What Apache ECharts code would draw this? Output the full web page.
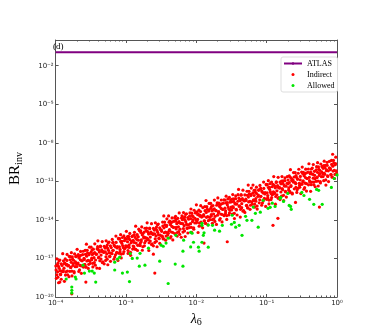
<!DOCTYPE html>
<html>
<head>
<meta charset="utf-8">
<script src="https://cdn.jsdelivr.net/npm/echarts@6/dist/echarts.min.js"></script>
<style>
  html, body { margin: 0; padding: 0; background: #fff; }
  #chart { width: 374px; height: 336px; }
</style>
</head>
<body>
<div id="chart"></div>
<script>
// points, stored as [log10(lambda6), log10(BR_inv)]
const indirectLog = [
  [-3.997,-17.59],[-3.989,-18.55],[-3.982,-17.03],[-3.973,-18.05],[-3.966,-17.36],[-3.958,-18.89],[-3.949,-17.77],[-3.940,-17.12],[-3.931,-18.22],[-3.920,-18.62],[-3.909,-17.55],
  [-3.899,-16.63],[-3.891,-17.95],[-3.880,-17.40],[-3.875,-18.78],[-3.863,-17.04],[-3.855,-18.05],[-3.842,-17.45],[-3.837,-16.69],[-3.828,-18.27],[-3.817,-17.53],[-3.810,-18.42],
  [-3.798,-18.00],[-3.790,-16.86],[-3.784,-17.70],[-3.776,-16.55],[-3.767,-18.36],[-3.759,-17.06],[-3.747,-17.40],[-3.738,-18.02],[-3.730,-16.65],[-3.721,-17.64],[-3.712,-16.84],[-3.704,-17.41],
  [-3.694,-16.29],[-3.686,-17.44],[-3.678,-16.70],[-3.670,-18.01],[-3.661,-16.84],[-3.653,-17.54],[-3.645,-16.45],[-3.634,-18.16],[-3.626,-17.18],[-3.615,-16.70],[-3.605,-17.67],
  [-3.596,-16.99],[-3.588,-17.48],[-3.579,-16.37],[-3.572,-17.67],[-3.562,-15.89],[-3.556,-17.20],[-3.546,-16.58],[-3.536,-17.78],[-3.525,-16.71],[-3.518,-16.12],[-3.507,-17.38],
  [-3.495,-16.12],[-3.487,-16.98],[-3.483,-16.35],[-3.471,-17.66],[-3.464,-16.62],[-3.450,-17.32],[-3.443,-15.86],[-3.432,-17.12],[-3.423,-16.68],[-3.414,-17.75],[-3.403,-16.08],
  [-3.399,-15.63],[-3.391,-16.95],[-3.380,-16.40],[-3.375,-17.78],[-3.363,-16.04],[-3.355,-17.05],[-3.342,-16.45],[-3.337,-15.69],[-3.328,-17.27],[-3.317,-16.53],[-3.310,-17.42],
  [-3.297,-16.19],[-3.289,-17.15],[-3.282,-15.63],[-3.273,-16.65],[-3.266,-15.96],[-3.258,-17.49],[-3.249,-16.37],[-3.240,-15.72],[-3.231,-16.82],[-3.220,-17.22],[-3.209,-16.15],
  [-3.195,-15.52],[-3.187,-16.38],[-3.183,-15.75],[-3.171,-17.06],[-3.164,-16.02],[-3.150,-16.72],[-3.143,-15.26],[-3.132,-16.52],[-3.123,-16.08],[-3.114,-17.15],[-3.103,-15.48],
  [-3.098,-16.60],[-3.090,-15.46],[-3.084,-16.30],[-3.076,-15.15],[-3.067,-16.96],[-3.059,-15.66],[-3.047,-16.00],[-3.038,-16.62],[-3.030,-15.25],[-3.021,-16.24],[-3.012,-15.44],[-3.004,-16.01],
  [-2.994,-14.89],[-2.986,-16.04],[-2.978,-15.30],[-2.970,-16.61],[-2.961,-15.44],[-2.953,-16.14],[-2.945,-15.05],[-2.934,-16.76],[-2.926,-15.78],[-2.915,-15.30],[-2.905,-16.27],
  [-2.896,-15.59],[-2.888,-16.08],[-2.879,-14.97],[-2.872,-16.27],[-2.862,-14.49],[-2.856,-15.80],[-2.846,-15.18],[-2.836,-16.38],[-2.825,-15.31],[-2.818,-14.72],[-2.807,-15.98],
  [-2.798,-16.00],[-2.790,-14.86],[-2.784,-15.70],[-2.776,-14.55],[-2.767,-16.36],[-2.759,-15.06],[-2.747,-15.40],[-2.738,-16.02],[-2.730,-14.65],[-2.721,-15.64],[-2.712,-14.84],[-2.704,-15.41],
  [-2.699,-14.23],[-2.691,-15.55],[-2.680,-15.00],[-2.675,-16.38],[-2.663,-14.64],[-2.655,-15.65],[-2.642,-15.05],[-2.637,-14.29],[-2.628,-15.87],[-2.617,-15.13],[-2.610,-16.02],
  [-2.597,-14.79],[-2.589,-15.75],[-2.582,-14.23],[-2.573,-15.25],[-2.566,-14.56],[-2.558,-16.09],[-2.549,-14.97],[-2.540,-14.32],[-2.531,-15.42],[-2.520,-15.82],[-2.509,-14.75],
  [-2.496,-14.79],[-2.488,-15.28],[-2.479,-14.17],[-2.472,-15.47],[-2.462,-13.69],[-2.456,-15.00],[-2.446,-14.38],[-2.436,-15.58],[-2.425,-14.51],[-2.418,-13.92],[-2.407,-15.18],
  [-2.394,-13.69],[-2.386,-14.84],[-2.378,-14.10],[-2.370,-15.41],[-2.361,-14.24],[-2.353,-14.94],[-2.345,-13.85],[-2.334,-15.56],[-2.326,-14.58],[-2.315,-14.10],[-2.305,-15.07],
  [-2.295,-13.72],[-2.287,-14.58],[-2.283,-13.95],[-2.271,-15.26],[-2.264,-14.22],[-2.250,-14.92],[-2.243,-13.46],[-2.232,-14.72],[-2.223,-14.28],[-2.214,-15.35],[-2.203,-13.68],
  [-2.197,-13.99],[-2.189,-14.95],[-2.182,-13.43],[-2.173,-14.45],[-2.166,-13.76],[-2.158,-15.29],[-2.149,-14.17],[-2.140,-13.52],[-2.131,-14.62],[-2.120,-15.02],[-2.109,-13.95],
  [-2.098,-14.60],[-2.090,-13.46],[-2.084,-14.30],[-2.076,-13.15],[-2.067,-14.96],[-2.059,-13.66],[-2.047,-14.00],[-2.038,-14.62],[-2.030,-13.25],[-2.021,-14.24],[-2.012,-13.44],[-2.004,-14.01],
  [-1.999,-12.83],[-1.991,-14.15],[-1.980,-13.60],[-1.975,-14.98],[-1.963,-13.24],[-1.955,-14.25],[-1.942,-13.65],[-1.937,-12.89],[-1.928,-14.47],[-1.917,-13.73],[-1.910,-14.62],
  [-1.896,-13.59],[-1.888,-14.08],[-1.879,-12.97],[-1.872,-14.27],[-1.862,-12.49],[-1.856,-13.80],[-1.846,-13.18],[-1.836,-14.38],[-1.825,-13.31],[-1.818,-12.72],[-1.807,-13.98],
  [-1.795,-12.72],[-1.787,-13.58],[-1.783,-12.95],[-1.771,-14.26],[-1.764,-13.22],[-1.750,-13.92],[-1.743,-12.46],[-1.732,-13.72],[-1.723,-13.28],[-1.714,-14.35],[-1.703,-12.68],
  [-1.694,-12.29],[-1.686,-13.44],[-1.678,-12.70],[-1.670,-14.01],[-1.661,-12.84],[-1.653,-13.54],[-1.645,-12.45],[-1.634,-14.16],[-1.626,-13.18],[-1.615,-12.70],[-1.605,-13.67],
  [-1.598,-13.60],[-1.590,-12.46],[-1.584,-13.30],[-1.576,-12.15],[-1.567,-13.96],[-1.559,-12.66],[-1.547,-13.00],[-1.538,-13.62],[-1.530,-12.25],[-1.521,-13.24],[-1.512,-12.44],[-1.504,-13.01],
  [-1.497,-12.59],[-1.489,-13.55],[-1.482,-12.03],[-1.473,-13.05],[-1.466,-12.36],[-1.458,-13.89],[-1.449,-12.77],[-1.440,-12.12],[-1.431,-13.22],[-1.420,-13.62],[-1.409,-12.55],
  [-1.399,-11.63],[-1.391,-12.95],[-1.380,-12.40],[-1.375,-13.78],[-1.363,-12.04],[-1.355,-13.05],[-1.342,-12.45],[-1.337,-11.69],[-1.328,-13.27],[-1.317,-12.53],[-1.310,-13.42],
  [-1.296,-12.39],[-1.288,-12.88],[-1.279,-11.77],[-1.272,-13.07],[-1.262,-11.29],[-1.256,-12.60],[-1.246,-11.98],[-1.236,-13.18],[-1.225,-12.11],[-1.218,-11.52],[-1.207,-12.78],
  [-1.194,-11.29],[-1.186,-12.44],[-1.178,-11.70],[-1.170,-13.01],[-1.161,-11.84],[-1.153,-12.54],[-1.145,-11.45],[-1.134,-13.16],[-1.126,-12.18],[-1.115,-11.70],[-1.105,-12.67],
  [-1.095,-11.32],[-1.087,-12.18],[-1.083,-11.55],[-1.071,-12.86],[-1.064,-11.82],[-1.050,-12.52],[-1.043,-11.06],[-1.032,-12.32],[-1.023,-11.88],[-1.014,-12.95],[-1.003,-11.28],
  [-0.998,-12.40],[-0.990,-11.26],[-0.984,-12.10],[-0.976,-10.95],[-0.967,-12.76],[-0.959,-11.46],[-0.947,-11.80],[-0.938,-12.42],[-0.930,-11.05],[-0.921,-12.04],[-0.912,-11.24],[-0.904,-11.81],
  [-0.899,-10.63],[-0.891,-11.95],[-0.880,-11.40],[-0.875,-12.78],[-0.863,-11.04],[-0.855,-12.05],[-0.842,-11.45],[-0.837,-10.69],[-0.828,-12.27],[-0.817,-11.53],[-0.810,-12.42],
  [-0.797,-11.19],[-0.789,-12.15],[-0.782,-10.63],[-0.773,-11.65],[-0.766,-10.96],[-0.758,-12.49],[-0.749,-11.37],[-0.740,-10.72],[-0.731,-11.82],[-0.720,-12.22],[-0.709,-11.15],
  [-0.696,-11.19],[-0.688,-11.68],[-0.679,-10.57],[-0.672,-11.87],[-0.662,-10.09],[-0.656,-11.40],[-0.646,-10.78],[-0.636,-11.98],[-0.625,-10.91],[-0.618,-10.32],[-0.607,-11.58],
  [-0.595,-10.32],[-0.587,-11.18],[-0.583,-10.55],[-0.571,-11.86],[-0.564,-10.82],[-0.550,-11.52],[-0.543,-10.06],[-0.532,-11.32],[-0.523,-10.88],[-0.514,-11.95],[-0.503,-10.28],
  [-0.494,-9.89],[-0.486,-11.04],[-0.478,-10.30],[-0.470,-11.61],[-0.461,-10.44],[-0.453,-11.14],[-0.445,-10.05],[-0.434,-11.76],[-0.426,-10.78],[-0.415,-10.30],[-0.405,-11.27],
  [-0.399,-9.63],[-0.391,-10.95],[-0.380,-10.40],[-0.375,-11.78],[-0.363,-10.04],[-0.355,-11.05],[-0.342,-10.45],[-0.337,-9.69],[-0.328,-11.27],[-0.317,-10.53],[-0.310,-11.42],
  [-0.298,-11.00],[-0.290,-9.86],[-0.284,-10.70],[-0.276,-9.55],[-0.267,-11.36],[-0.259,-10.06],[-0.247,-10.40],[-0.238,-11.02],[-0.230,-9.65],[-0.221,-10.64],[-0.212,-9.84],[-0.204,-10.41],
  [-0.197,-9.99],[-0.189,-10.95],[-0.182,-9.43],[-0.173,-10.45],[-0.166,-9.76],[-0.158,-11.29],[-0.149,-10.17],[-0.140,-9.52],[-0.131,-10.62],[-0.120,-11.02],[-0.109,-9.95],
  [-0.096,-9.99],[-0.088,-10.48],[-0.079,-9.37],[-0.072,-10.67],[-0.062,-8.89],[-0.056,-10.20],[-0.046,-9.58],[-0.036,-10.78],[-0.025,-9.71],[-0.018,-9.12],[-0.007,-10.38],
  // denser core of the band
  [-3.993,-17.89],[-3.984,-18.27],[-3.976,-17.48],[-3.967,-18.46],[-3.959,-17.62],[-3.951,-17.17],[-3.938,-17.95],[-3.929,-18.26],[-3.921,-17.42],[-3.912,-17.99],
  [-3.898,-18.03],[-3.888,-17.18],[-3.881,-17.76],[-3.869,-17.36],[-3.860,-18.29],[-3.848,-17.51],[-3.840,-17.15],[-3.833,-17.98],[-3.824,-17.58],[-3.807,-16.84],
  [-3.795,-17.10],[-3.786,-17.70],[-3.778,-17.30],[-3.771,-17.98],[-3.763,-16.88],[-3.754,-17.54],[-3.745,-17.14],[-3.736,-18.12],[-3.718,-17.27],[-3.710,-16.86],
  [-3.698,-17.63],[-3.688,-16.78],[-3.681,-17.36],[-3.669,-16.96],[-3.660,-17.89],[-3.648,-17.11],[-3.640,-16.75],[-3.633,-17.58],[-3.624,-17.18],[-3.607,-16.44],
  [-3.593,-17.09],[-3.584,-17.47],[-3.576,-16.68],[-3.567,-17.66],[-3.559,-16.82],[-3.551,-16.37],[-3.538,-17.15],[-3.529,-17.46],[-3.521,-16.62],[-3.512,-17.19],
  [-3.495,-16.50],[-3.486,-17.10],[-3.478,-16.70],[-3.471,-17.38],[-3.463,-16.28],[-3.454,-16.94],[-3.445,-16.54],[-3.436,-17.52],[-3.418,-16.67],[-3.410,-16.26],
  [-3.395,-16.30],[-3.386,-16.90],[-3.378,-16.50],[-3.371,-17.18],[-3.363,-16.08],[-3.354,-16.74],[-3.345,-16.34],[-3.336,-17.32],[-3.318,-16.47],[-3.310,-16.06],
  [-3.293,-16.49],[-3.284,-16.87],[-3.276,-16.08],[-3.267,-17.06],[-3.259,-16.22],[-3.251,-15.77],[-3.238,-16.55],[-3.229,-16.86],[-3.221,-16.02],[-3.212,-16.59],
  [-3.198,-16.63],[-3.188,-15.78],[-3.181,-16.36],[-3.169,-15.96],[-3.160,-16.89],[-3.148,-16.11],[-3.140,-15.75],[-3.133,-16.58],[-3.124,-16.18],[-3.107,-15.44],
  [-3.093,-16.09],[-3.084,-16.47],[-3.076,-15.68],[-3.067,-16.66],[-3.059,-15.82],[-3.051,-15.37],[-3.038,-16.15],[-3.029,-16.46],[-3.021,-15.62],[-3.012,-16.19],
  [-2.995,-15.50],[-2.986,-16.10],[-2.978,-15.70],[-2.971,-16.38],[-2.963,-15.28],[-2.954,-15.94],[-2.945,-15.54],[-2.936,-16.52],[-2.918,-15.67],[-2.910,-15.26],
  [-2.898,-16.03],[-2.888,-15.18],[-2.881,-15.76],[-2.869,-15.36],[-2.860,-16.29],[-2.848,-15.51],[-2.840,-15.15],[-2.833,-15.98],[-2.824,-15.58],[-2.807,-14.84],
  [-2.798,-15.83],[-2.788,-14.98],[-2.781,-15.56],[-2.769,-15.16],[-2.760,-16.09],[-2.748,-15.31],[-2.740,-14.95],[-2.733,-15.78],[-2.724,-15.38],[-2.707,-14.64],
  [-2.695,-14.90],[-2.686,-15.50],[-2.678,-15.10],[-2.671,-15.78],[-2.663,-14.68],[-2.654,-15.34],[-2.645,-14.94],[-2.636,-15.92],[-2.618,-15.07],[-2.610,-14.66],
  [-2.593,-15.09],[-2.584,-15.47],[-2.576,-14.68],[-2.567,-15.66],[-2.559,-14.82],[-2.551,-14.37],[-2.538,-15.15],[-2.529,-15.46],[-2.521,-14.62],[-2.512,-15.19],
  [-2.493,-14.89],[-2.484,-15.27],[-2.476,-14.48],[-2.467,-15.46],[-2.459,-14.62],[-2.451,-14.17],[-2.438,-14.95],[-2.429,-15.26],[-2.421,-14.42],[-2.412,-14.99],
  [-2.398,-15.03],[-2.388,-14.18],[-2.381,-14.76],[-2.369,-14.36],[-2.360,-15.29],[-2.348,-14.51],[-2.340,-14.15],[-2.333,-14.98],[-2.324,-14.58],[-2.307,-13.84],
  [-2.295,-14.10],[-2.286,-14.70],[-2.278,-14.30],[-2.271,-14.98],[-2.263,-13.88],[-2.254,-14.54],[-2.245,-14.14],[-2.236,-15.12],[-2.218,-14.27],[-2.210,-13.86],
  [-2.193,-14.29],[-2.184,-14.67],[-2.176,-13.88],[-2.167,-14.86],[-2.159,-14.02],[-2.151,-13.57],[-2.138,-14.35],[-2.129,-14.66],[-2.121,-13.82],[-2.112,-14.39],
  [-2.095,-13.70],[-2.086,-14.30],[-2.078,-13.90],[-2.071,-14.58],[-2.063,-13.48],[-2.054,-14.14],[-2.045,-13.74],[-2.036,-14.72],[-2.018,-13.87],[-2.010,-13.46],
  [-1.998,-14.23],[-1.988,-13.38],[-1.981,-13.96],[-1.969,-13.56],[-1.960,-14.49],[-1.948,-13.71],[-1.940,-13.35],[-1.933,-14.18],[-1.924,-13.78],[-1.907,-13.04],
  [-1.893,-13.69],[-1.884,-14.07],[-1.876,-13.28],[-1.867,-14.26],[-1.859,-13.42],[-1.851,-12.97],[-1.838,-13.75],[-1.829,-14.06],[-1.821,-13.22],[-1.812,-13.79],
  [-1.795,-13.10],[-1.786,-13.70],[-1.778,-13.30],[-1.771,-13.98],[-1.763,-12.88],[-1.754,-13.54],[-1.745,-13.14],[-1.736,-14.12],[-1.718,-13.27],[-1.710,-12.86],
  [-1.698,-13.63],[-1.688,-12.78],[-1.681,-13.36],[-1.669,-12.96],[-1.660,-13.89],[-1.648,-13.11],[-1.640,-12.75],[-1.633,-13.58],[-1.624,-13.18],[-1.607,-12.44],
  [-1.593,-13.09],[-1.584,-13.47],[-1.576,-12.68],[-1.567,-13.66],[-1.559,-12.82],[-1.551,-12.37],[-1.538,-13.15],[-1.529,-13.46],[-1.521,-12.62],[-1.512,-13.19],
  [-1.498,-13.23],[-1.488,-12.38],[-1.481,-12.96],[-1.469,-12.56],[-1.460,-13.49],[-1.448,-12.71],[-1.440,-12.35],[-1.433,-13.18],[-1.424,-12.78],[-1.407,-12.04],
  [-1.395,-12.30],[-1.386,-12.90],[-1.378,-12.50],[-1.371,-13.18],[-1.363,-12.08],[-1.354,-12.74],[-1.345,-12.34],[-1.336,-13.32],[-1.318,-12.47],[-1.310,-12.06],
  [-1.293,-12.49],[-1.284,-12.87],[-1.276,-12.08],[-1.267,-13.06],[-1.259,-12.22],[-1.251,-11.77],[-1.238,-12.55],[-1.229,-12.86],[-1.221,-12.02],[-1.212,-12.59],
  [-1.195,-11.90],[-1.186,-12.50],[-1.178,-12.10],[-1.171,-12.78],[-1.163,-11.68],[-1.154,-12.34],[-1.145,-11.94],[-1.136,-12.92],[-1.118,-12.07],[-1.110,-11.66],
  [-1.098,-12.43],[-1.088,-11.58],[-1.081,-12.16],[-1.069,-11.76],[-1.060,-12.69],[-1.048,-11.91],[-1.040,-11.55],[-1.033,-12.38],[-1.024,-11.98],[-1.007,-11.24],
  [-0.993,-11.89],[-0.984,-12.27],[-0.976,-11.48],[-0.967,-12.46],[-0.959,-11.62],[-0.951,-11.17],[-0.938,-11.95],[-0.929,-12.26],[-0.921,-11.42],[-0.912,-11.99],
  [-0.895,-11.30],[-0.886,-11.90],[-0.878,-11.50],[-0.871,-12.18],[-0.863,-11.08],[-0.854,-11.74],[-0.845,-11.34],[-0.836,-12.32],[-0.818,-11.47],[-0.810,-11.06],
  [-0.798,-11.83],[-0.788,-10.98],[-0.781,-11.56],[-0.769,-11.16],[-0.760,-12.09],[-0.748,-11.31],[-0.740,-10.95],[-0.733,-11.78],[-0.724,-11.38],[-0.707,-10.64],
  [-0.695,-10.90],[-0.686,-11.50],[-0.678,-11.10],[-0.671,-11.78],[-0.663,-10.68],[-0.654,-11.34],[-0.645,-10.94],[-0.636,-11.92],[-0.618,-11.07],[-0.610,-10.66],
  [-0.593,-11.09],[-0.584,-11.47],[-0.576,-10.68],[-0.567,-11.66],[-0.559,-10.82],[-0.551,-10.37],[-0.538,-11.15],[-0.529,-11.46],[-0.521,-10.62],[-0.512,-11.19],
  [-0.498,-11.23],[-0.488,-10.38],[-0.481,-10.96],[-0.469,-10.56],[-0.460,-11.49],[-0.448,-10.71],[-0.440,-10.35],[-0.433,-11.18],[-0.424,-10.78],[-0.407,-10.04],
  [-0.393,-10.69],[-0.384,-11.07],[-0.376,-10.28],[-0.367,-11.26],[-0.359,-10.42],[-0.351,-9.97],[-0.338,-10.75],[-0.329,-11.06],[-0.321,-10.22],[-0.312,-10.79],
  [-0.295,-10.10],[-0.286,-10.70],[-0.278,-10.30],[-0.271,-10.98],[-0.263,-9.88],[-0.254,-10.54],[-0.245,-10.14],[-0.236,-11.12],[-0.218,-10.27],[-0.210,-9.86],
  [-0.198,-10.63],[-0.188,-9.78],[-0.181,-10.36],[-0.169,-9.96],[-0.160,-10.89],[-0.148,-10.11],[-0.140,-9.75],[-0.133,-10.58],[-0.124,-10.18],[-0.107,-9.44],
  [-0.093,-10.09],[-0.084,-10.47],[-0.076,-9.68],[-0.067,-10.66],[-0.059,-9.82],[-0.051,-9.37],[-0.038,-10.15],[-0.029,-10.46],[-0.021,-9.62],[-0.012,-10.19],
  // stragglers below the band
  [-3.94,-18.84],[-3.57,-18.84],[-3.77,-19.75],[-2.59,-18.14],[-2.61,-16.67],[-1.89,-15.80],[-1.56,-15.70],
  [-0.91,-14.42],[-0.84,-13.88],[-0.59,-12.64],[-0.25,-13.00]
];

const allowedLog = [
  [-3.85,-18.60],[-3.77,-19.22],[-3.77,-19.48],[-3.77,-19.69],[-3.72,-18.45],[-3.71,-18.60],[-3.61,-17.52],[-3.59,-18.14],
  [-3.52,-17.98],[-3.48,-17.98],[-3.45,-18.14],[-3.43,-18.84],[-3.16,-17.29],[-3.16,-17.90],[-3.12,-17.05],[-3.09,-16.90],
  [-3.05,-18.14],[-2.98,-18.06],[-2.95,-18.80],[-2.94,-16.62],[-2.91,-17.00],[-2.84,-16.97],[-2.81,-17.60],[-2.80,-16.60],
  [-2.73,-17.52],[-2.68,-16.20],[-2.52,-17.21],[-2.50,-15.97],[-2.47,-16.05],[-2.43,-15.80],[-2.40,-15.42],[-2.40,-18.95],
  [-2.30,-17.44],[-2.29,-15.20],[-2.19,-16.43],[-2.19,-17.60],[-2.18,-15.58],[-2.08,-14.96],[-2.08,-16.10],[-2.06,-15.04],
  [-2.04,-15.74],[-1.97,-16.12],[-1.96,-16.43],[-1.92,-14.26],[-1.92,-14.42],[-1.92,-15.74],[-1.90,-15.20],[-1.89,-15.00],
  [-1.83,-14.40],[-1.83,-16.12],[-1.77,-14.42],[-1.74,-14.80],[-1.67,-14.88],[-1.63,-14.42],[-1.50,-14.34],[-1.49,-13.64],
  [-1.46,-14.20],[-1.44,-14.57],[-1.39,-14.42],[-1.35,-15.20],[-1.30,-13.72],[-1.28,-14.03],[-1.21,-14.03],[-1.19,-13.00],
  [-1.16,-13.49],[-1.12,-14.57],[-1.09,-13.40],[-1.05,-12.48],[-0.98,-13.10],[-0.95,-13.02],[-0.92,-12.70],[-0.88,-12.95],
  [-0.81,-12.33],[-0.80,-12.25],[-0.76,-12.56],[-0.70,-11.94],[-0.68,-12.87],[-0.66,-12.95],[-0.65,-13.18],[-0.50,-11.86],
  [-0.47,-12.10],[-0.39,-12.40],[-0.33,-12.79],[-0.29,-11.63],[-0.26,-11.70],[-0.21,-12.79],[-0.08,-11.47],[-0.04,-10.78],
  [0.00,-10.50]
];

const atlasLimit = 0.11;
const xRange = [1e-4, 1];
const yRange = [1e-20, 1];
const yTickValues = [1e-20, 1e-17, 1e-14, 1e-11, 1e-8, 1e-5, 1e-2];
const xMinorTicks = [];
[1e-4, 1e-3, 1e-2, 1e-1].forEach(d => [2, 3, 4, 5, 6, 7, 8, 9].forEach(m => xMinorTicks.push(m * d)));

const toPoint = p => [Math.pow(10, p[0]), Math.pow(10, p[1])];

const sup = { '-': '\u207b', '0': '\u2070', '1': '\u00b9', '2': '\u00b2', '3': '\u00b3',
  '4': '\u2074', '5': '\u2075', '6': '\u2076', '7': '\u2077', '8': '\u2078', '9': '\u2079' };
const powLabel = v => '10' + String(Math.round(Math.log10(v))).split('').map(c => sup[c]).join('');

const frame = '#555';
const tickFont = { fontFamily: 'DejaVu Sans', fontSize: 7, color: '#222' };
const serif = 'Liberation Serif';

const xBase = {
  type: 'log', min: xRange[0], max: xRange[1], logBase: 10,
  splitLine: { show: false }, minorTick: { show: false }
};
const yBase = {
  type: 'log', min: yRange[0], max: yRange[1], logBase: 10,
  splitLine: { show: false }
};

const chart = echarts.init(document.getElementById('chart'));
chart.setOption({
  animation: false,
  title: {
    text: '(d)', left: 53, top: 42, padding: 0,
    textStyle: { fontFamily: serif, fontSize: 9, fontWeight: 'normal', color: '#000' }
  },
  grid: { left: 46, right: 37, top: 40, bottom: 39 },
  legend: {
    orient: 'vertical', left: 281, top: 57,
    padding: [2, 3, 2, 2], itemGap: 2, itemWidth: 18, itemHeight: 3,
    borderColor: '#ddd', borderWidth: 1, borderRadius: 2, backgroundColor: '#fff',
    textStyle: { fontFamily: serif, fontSize: 8, lineHeight: 9, color: '#000' },
    data: ['ATLAS', 'Indirect', 'Allowed']
  },
  xAxis: [
    Object.assign({}, xBase, {
      position: 'bottom',
      name: '{a|\u03bb}{b|6}', nameLocation: 'middle', nameGap: 13,
      nameTextStyle: {
        rich: {
          a: { fontFamily: serif, fontSize: 14, fontStyle: 'italic', lineHeight: 16, color: '#000' },
          b: { fontFamily: serif, fontSize: 10, lineHeight: 10, verticalAlign: 'bottom', color: '#000' }
        }
      },
      axisLine: { show: true, lineStyle: { color: frame, width: 1 } },
      axisTick: { show: true, inside: true, length: 3, lineStyle: { color: frame } },
      axisLabel: Object.assign({ margin: 3, formatter: powLabel }, tickFont)
    }),
    Object.assign({}, xBase, {
      position: 'bottom',
      axisLine: { show: false },
      axisTick: { show: true, inside: true, length: 1.5, customValues: xMinorTicks, lineStyle: { color: frame } },
      axisLabel: { show: false }
    }),
    Object.assign({}, xBase, {
      position: 'top',
      axisLine: { show: true, lineStyle: { color: frame, width: 1 } },
      axisTick: { show: true, inside: true, length: 3, lineStyle: { color: frame } },
      axisLabel: { show: false }
    }),
    Object.assign({}, xBase, {
      position: 'top',
      axisLine: { show: false },
      axisTick: { show: true, inside: true, length: 1.5, customValues: xMinorTicks, lineStyle: { color: frame } },
      axisLabel: { show: false }
    })
  ],
  yAxis: [
    Object.assign({}, yBase, {
      position: 'left',
      name: '{a|BR}{b|inv}', nameLocation: 'middle', nameGap: 19, nameRotate: 90,
      nameTextStyle: {
        rich: {
          a: { fontFamily: serif, fontSize: 15, lineHeight: 18, color: '#000' },
          b: { fontFamily: serif, fontSize: 10, lineHeight: 10, verticalAlign: 'bottom', color: '#000' }
        }
      },
      axisLine: { show: true, lineStyle: { color: frame, width: 1 } },
      axisTick: { show: true, inside: true, length: 3, customValues: yTickValues, lineStyle: { color: frame } },
      axisLabel: Object.assign({ margin: 2, customValues: yTickValues, formatter: powLabel }, tickFont)
    }),
    Object.assign({}, yBase, {
      position: 'right',
      axisLine: { show: true, lineStyle: { color: frame, width: 1 } },
      axisTick: { show: true, inside: true, length: 3, customValues: yTickValues, lineStyle: { color: frame } },
      axisLabel: { show: false }
    })
  ],
  series: [
    {
      name: 'ATLAS', type: 'line', symbol: 'none',
      xAxisIndex: 0, yAxisIndex: 0,
      itemStyle: { color: '#800080' },
      lineStyle: { color: '#800080', width: 2 },
      data: [[xRange[0], atlasLimit], [xRange[1], atlasLimit]],
      z: 3
    },
    {
      name: 'Indirect', type: 'scatter', symbol: 'circle', symbolSize: 3.2,
      xAxisIndex: 0, yAxisIndex: 0,
      itemStyle: { color: '#ff0000', opacity: 1 },
      data: indirectLog.map(toPoint),
      z: 4
    },
    {
      name: 'Allowed', type: 'scatter', symbol: 'circle', symbolSize: 3.2,
      xAxisIndex: 0, yAxisIndex: 0,
      itemStyle: { color: '#00e600', opacity: 1 },
      data: allowedLog.map(toPoint),
      z: 5
    }
  ]
});
</script>
</body>
</html>
